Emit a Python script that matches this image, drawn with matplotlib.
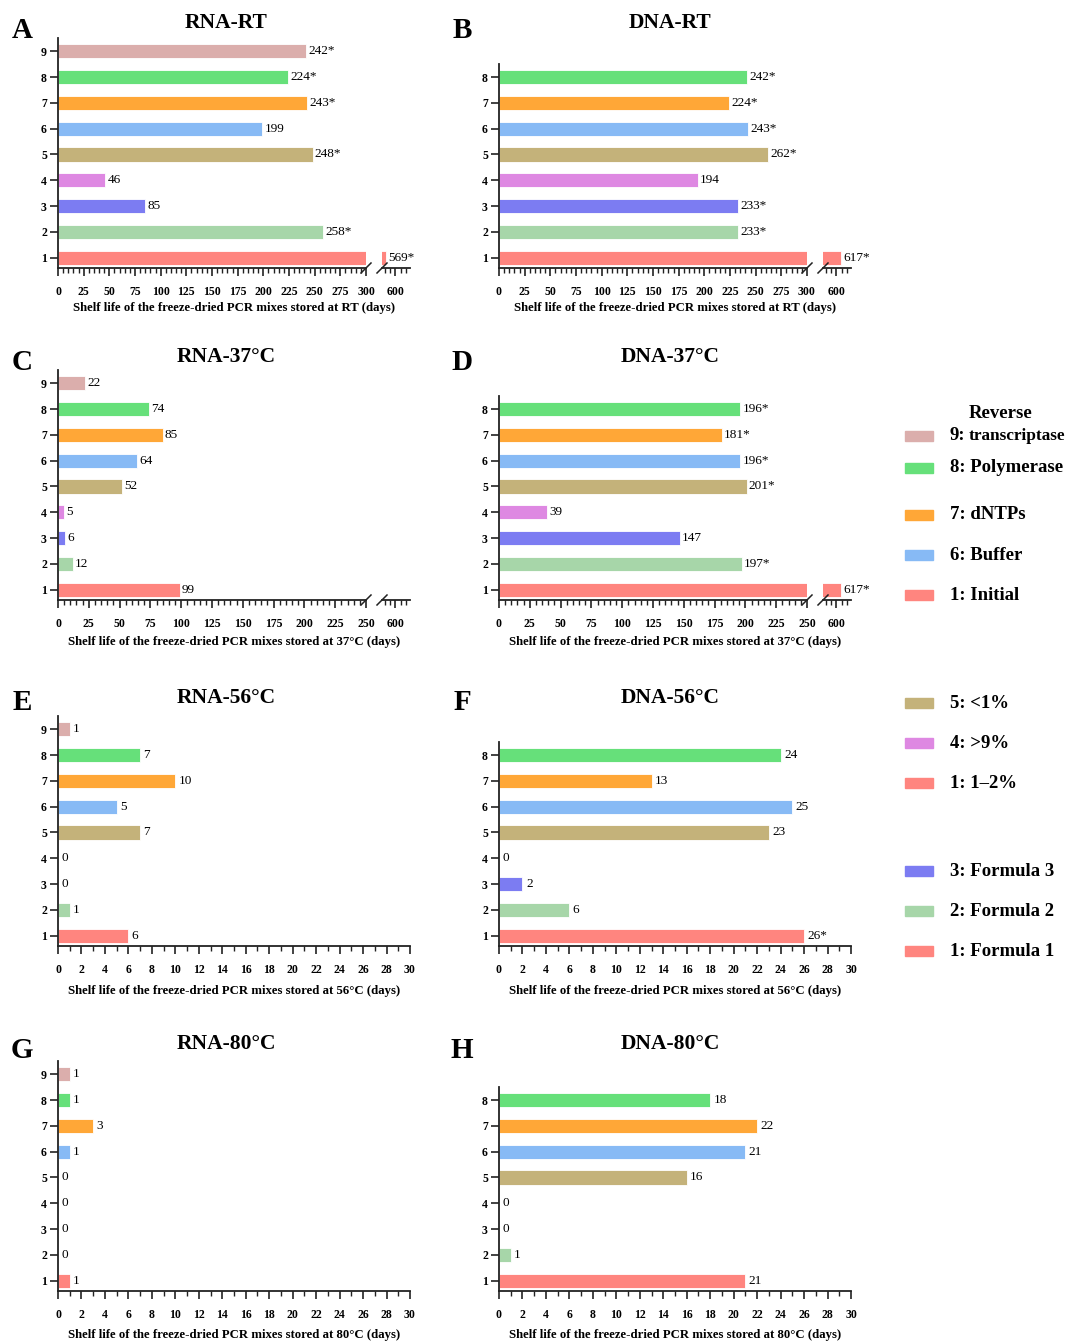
import matplotlib.pyplot as plt
from matplotlib.lines import Line2D
from matplotlib.patches import Rectangle
from matplotlib.ticker import MultipleLocator, FixedLocator

plt.rcParams['font.family'] = ['Liberation Serif', 'DejaVu Serif']

# ---------------------------------------------------------------
# data
# ---------------------------------------------------------------
rna_cats = [1, 2, 3, 4, 5, 6, 7, 8, 9]
dna_cats = [1, 2, 3, 4, 5, 6, 7, 8]

rna_rt = [569, 258, 85, 46, 248, 199, 243, 224, 242]
rna_rt_star = [1, 1, 0, 0, 1, 0, 1, 1, 1]
dna_rt = [617, 233, 233, 194, 262, 243, 224, 242]
dna_rt_star = [1, 1, 1, 0, 1, 1, 1, 1]

rna_37 = [99, 12, 6, 5, 52, 64, 85, 74, 22]
rna_37_star = [0, 0, 0, 0, 0, 0, 0, 0, 0]
dna_37 = [617, 197, 147, 39, 201, 196, 181, 196]
dna_37_star = [1, 1, 0, 0, 1, 1, 1, 1]

rna_56 = [6, 1, 0, 0, 7, 5, 10, 7, 1]
rna_56_star = [0, 0, 0, 0, 0, 0, 0, 0, 0]
dna_56 = [26, 6, 2, 0, 23, 25, 13, 24]
dna_56_star = [1, 0, 0, 0, 0, 0, 0, 0]

rna_80 = [1, 0, 0, 0, 0, 1, 3, 1, 1]
rna_80_star = [0, 0, 0, 0, 0, 0, 0, 0, 0]
dna_80 = [21, 1, 0, 0, 16, 21, 22, 18]
dna_80_star = [0, 0, 0, 0, 0, 0, 0, 0]

colors = {1: '#FF857F', 2: '#A7D6A9', 3: '#7C7CF2', 4: '#DE88E2', 5: '#C4B27A',
          6: '#87BAF5', 7: '#FFA737', 8: '#66E07A', 9: '#DBAEAC'}

legend_labels = ['9: transcriptase', '8: Polymerase', '7: dNTPs', '6: Buffer', '1: Initial',
                 '5: <1%', '4: >9%', '1: 1\u20132%',
                 '3: Formula 3', '2: Formula 2', '1: Formula 1']
legend_keys = [9, 8, 7, 6, 1, 5, 4, 1, 3, 2, 1]

# ---------------------------------------------------------------
# layout helpers (pixel coordinates, y downward)
# ---------------------------------------------------------------
W, H = 1070, 1341
fig = plt.figure(figsize=(W / 100, H / 100), dpi=100)


def fx(x):
    return x / W


def fy(y):
    return 1 - y / H


SP = 25.8            # pixels per category
YLO, YHI = 0.6, 9.5
row_bottom = [268, 600, 946, 1291]
row_title = [23, 357, 698, 1044]
row_letter = [30, 362, 703, 1050]
row_xlabel = [308, 642, 991, 1335]
col_x0 = [58, 499]
col_title = [226, 670]
col_letter = [22, 462]
col_xlabel = [234, 675]

bold = dict(fontweight='bold')


def style_axis(ax):
    for s in ['top', 'right']:
        ax.spines[s].set_visible(False)
    for s in ['left', 'bottom']:
        ax.spines[s].set_linewidth(1.3)
        ax.spines[s].set_color('#222222')
    ax.tick_params(axis='x', which='major', length=6, width=1.2, pad=7, labelsize=8.5, colors='#222222')
    ax.tick_params(axis='x', which='minor', length=3.5, width=1.0, colors='#222222')
    ax.tick_params(axis='y', which='major', length=6, width=1.2, pad=2, labelsize=8.5, colors='#222222')
    for lab in ax.get_xticklabels() + ax.get_yticklabels():
        lab.set_fontweight('bold')
        lab.set_color('black')


def slash(xp, yp):
    fig.add_artist(Line2D([fx(xp - 5), fx(xp + 5)], [fy(yp + 5), fy(yp - 5)],
                          color='#222222', lw=1.1))


def panel(col, row, letter, title, cats, vals, stars, xlabel, kind):
    x0 = col_x0[col]
    yb = row_bottom[row]
    top = max(cats) + 0.5
    h = (YHI - YLO) * SP
    labels = [f'{v}*' if s else f'{v}' for v, s in zip(vals, stars)]
    bar_colors = [colors[c] for c in cats]

    if kind in ('rt', '37'):
        xmax = 300 if kind == 'rt' else 250
        ax = fig.add_axes([fx(x0), fy(yb), (366 - 58) / W, h / H])
        ax2 = fig.add_axes([fx(x0 + 324), fy(yb), (410 - 382) / W, h / H])
        for a in (ax, ax2):
            a.barh(cats, vals, height=0.55, color=bar_colors, edgecolor='white', linewidth=0.6)
            a.set_ylim(YLO, YHI)
        ax.set_xlim(0, xmax)
        ax.xaxis.set_major_locator(MultipleLocator(25))
        ax.xaxis.set_minor_locator(MultipleLocator(5))
        ax2.set_xlim(555, 650)
        ax2.xaxis.set_major_locator(FixedLocator([600]))
        ax2.xaxis.set_minor_locator(FixedLocator([565, 582, 618, 635]))
        ax2.spines['left'].set_visible(False)
        ax2.set_yticks([])
        style_axis(ax2)
        for c, v, t in zip(cats, vals, labels):
            target = ax if v <= xmax else ax2
            target.annotate(t, (v, c), xytext=(1.5, 0), textcoords='offset points',
                            va='center', ha='left', fontsize=9.5, annotation_clip=False)
        slash(x0 + 308, yb)
        slash(x0 + 324, yb)
    else:
        ax = fig.add_axes([fx(x0), fy(yb), (410 - 58) / W, h / H])
        ax.barh(cats, vals, height=0.55, color=bar_colors, edgecolor='white', linewidth=0.6)
        ax.set_ylim(YLO, YHI)
        ax.set_xlim(0, 30)
        ax.xaxis.set_major_locator(MultipleLocator(2))
        ax.xaxis.set_minor_locator(MultipleLocator(1))
        for c, v, t in zip(cats, vals, labels):
            ax.annotate(t, (v, c), xytext=(2.5, 0), textcoords='offset points',
                        va='center', ha='left', fontsize=9.5, annotation_clip=False)

    ax.set_yticks(cats)
    ax.spines['left'].set_bounds(YLO, top)
    style_axis(ax)

    fig.text(fx(col_title[col]), fy(row_title[row]), title, ha='center', va='center',
             fontsize=15.5, **bold)
    fig.text(fx(col_letter[col]), fy(row_letter[row]), letter, ha='center', va='center',
             fontsize=21, **bold)
    fig.text(fx(col_xlabel[col]), fy(row_xlabel[row]), xlabel, ha='center', va='center',
             fontsize=9.2, **bold)


lab = 'Shelf life of the freeze-dried PCR mixes stored at {} (days)'
panel(0, 0, 'A', 'RNA-RT', rna_cats, rna_rt, rna_rt_star, lab.format('RT'), 'rt')
panel(1, 0, 'B', 'DNA-RT', dna_cats, dna_rt, dna_rt_star, lab.format('RT'), 'rt')
panel(0, 1, 'C', 'RNA-37\u00b0C', rna_cats, rna_37, rna_37_star, lab.format('37\u00b0C'), '37')
panel(1, 1, 'D', 'DNA-37\u00b0C', dna_cats, dna_37, dna_37_star, lab.format('37\u00b0C'), '37')
panel(0, 2, 'E', 'RNA-56\u00b0C', rna_cats, rna_56, rna_56_star, lab.format('56\u00b0C'), 'hot')
panel(1, 2, 'F', 'DNA-56\u00b0C', dna_cats, dna_56, dna_56_star, lab.format('56\u00b0C'), 'hot')
panel(0, 3, 'G', 'RNA-80\u00b0C', rna_cats, rna_80, rna_80_star, lab.format('80\u00b0C'), 'hot')
panel(1, 3, 'H', 'DNA-80\u00b0C', dna_cats, dna_80, dna_80_star, lab.format('80\u00b0C'), 'hot')

# ---------------------------------------------------------------
# legend (drawn by hand, grouped like the original)
# ---------------------------------------------------------------
legend_y = [436, 468, 515, 555, 595, 703, 743, 783, 871, 911, 951]
for key, text, y in zip(legend_keys, legend_labels, legend_y):
    fig.add_artist(Rectangle((fx(905), fy(y + 5)), 28 / W, 10 / H, color=colors[key],
                             transform=fig.transFigure))
    if text.startswith('9:'):
        fig.text(fx(950), fy(y), '9:', ha='left', va='center', fontsize=13.5, **bold)
        fig.text(fx(969), fy(y), 'transcriptase', ha='left', va='center', fontsize=12.4, **bold)
        fig.text(fx(1001), fy(y - 22), 'Reverse', ha='center', va='center', fontsize=13.5, **bold)
    else:
        fig.text(fx(950), fy(y), text, ha='left', va='center', fontsize=13.5, **bold)

fig.savefig('out.png', dpi=100)
